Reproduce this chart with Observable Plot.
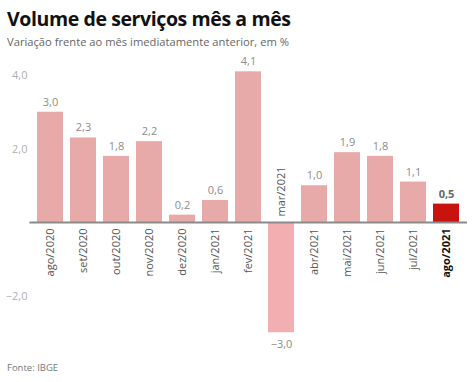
<!DOCTYPE html>
<html>
<head>
<meta charset="utf-8">
<script src="https://cdn.jsdelivr.net/npm/d3@7"></script>
<script src="https://cdn.jsdelivr.net/npm/@observablehq/plot@0.6"></script>
<style>
  body { margin: 0; background: #fff; font-family: "Open Sans", sans-serif; width: 474px; height: 382px; position: relative; overflow: hidden; }
  #title { position: absolute; left: 7px; top: 5px; font-size: 19.5px; font-weight: 700; color: #111; letter-spacing: -0.4px; }
  #subtitle { position: absolute; left: 7px; top: 34px; font-size: 11.2px; color: #666; }
  #chart { position: absolute; left: 0; top: 45px; }
  #caption { position: absolute; left: 7px; top: 361px; font-size: 9.5px; color: #777; }
</style>
</head>
<body>
<div id="title">Volume de serviços mês a mês</div>
<div id="subtitle">Variação frente ao mês imediatamente anterior, em %</div>
<div id="chart"></div>
<div id="caption">Fonte: IBGE</div>
<script>
const months = ["ago/2020","set/2020","out/2020","nov/2020","dez/2020","jan/2021","fev/2021","mar/2021","abr/2021","mai/2021","jun/2021","jul/2021","ago/2021"];
const values = [3.0, 2.3, 1.8, 2.2, 0.2, 0.6, 4.1, -3.0, 1.0, 1.9, 1.8, 1.1, 0.5];
const yTicks = [-2, 2, 4];

const data = months.map((m, i) => ({month: m, value: values[i], i}));
const last = months.length - 1;
const fmt = v => v.toFixed(1).replace(".", ",").replace("-", "−");
const barColor = d => d.i === last ? "#c8140f" : (d.value < 0 ? "#f3aeb1" : "#e8aaa8");

const chart = Plot.plot({
  width: 474,
  height: 310,
  marginLeft: 29.4,
  marginRight: 7,
  marginTop: 26.3,
  marginBottom: 22.75,
  style: {fontFamily: "Open Sans, sans-serif", background: "transparent"},
  x: {domain: months, paddingInner: 0.22, paddingOuter: 0.2, axis: null},
  y: {domain: [-3.0, 4.1], nice: false, axis: null},
  color: {type: "identity"},
  marks: [
    Plot.barY(data, {x: "month", y: "value", fill: barColor}),
    Plot.ruleY([0], {stroke: "#8a8a8a", strokeWidth: 2}),
    Plot.text(yTicks, {x: () => months[0], y: d => d, text: d => fmt(d), textAnchor: "end", dx: -23, fill: "#b0b0b0", fontSize: 11}),
    // value labels
    Plot.text(data.filter(d => d.value >= 0 && d.i !== last), {x: "month", y: "value", text: d => fmt(d.value), dy: -10, fill: "#8c8c8c", fontSize: 11}),
    Plot.text(data.filter(d => d.value < 0), {x: "month", y: "value", text: d => fmt(d.value), dy: 12, fill: "#8c8c8c", fontSize: 11}),
    Plot.text(data.filter(d => d.i === last), {x: "month", y: "value", text: d => fmt(d.value), dy: -10, fill: "#666", fontSize: 11, fontWeight: "bold"}),
    // month labels
    Plot.text(data.filter(d => d.value >= 0 && d.i !== last), {x: "month", y: () => 0, text: "month", rotate: -90, textAnchor: "end", dy: 6, fill: "#555", fontSize: 11}),
    Plot.text(data.filter(d => d.value < 0), {x: "month", y: () => 0, text: "month", rotate: -90, textAnchor: "start", dy: -6, fill: "#555", fontSize: 11}),
    Plot.text(data.filter(d => d.i === last), {x: "month", y: () => 0, text: "month", rotate: -90, textAnchor: "end", dy: 6, fill: "#111", fontSize: 11, fontWeight: "bold"})
  ]
});
document.getElementById("chart").appendChild(chart);
</script>
</body>
</html>
